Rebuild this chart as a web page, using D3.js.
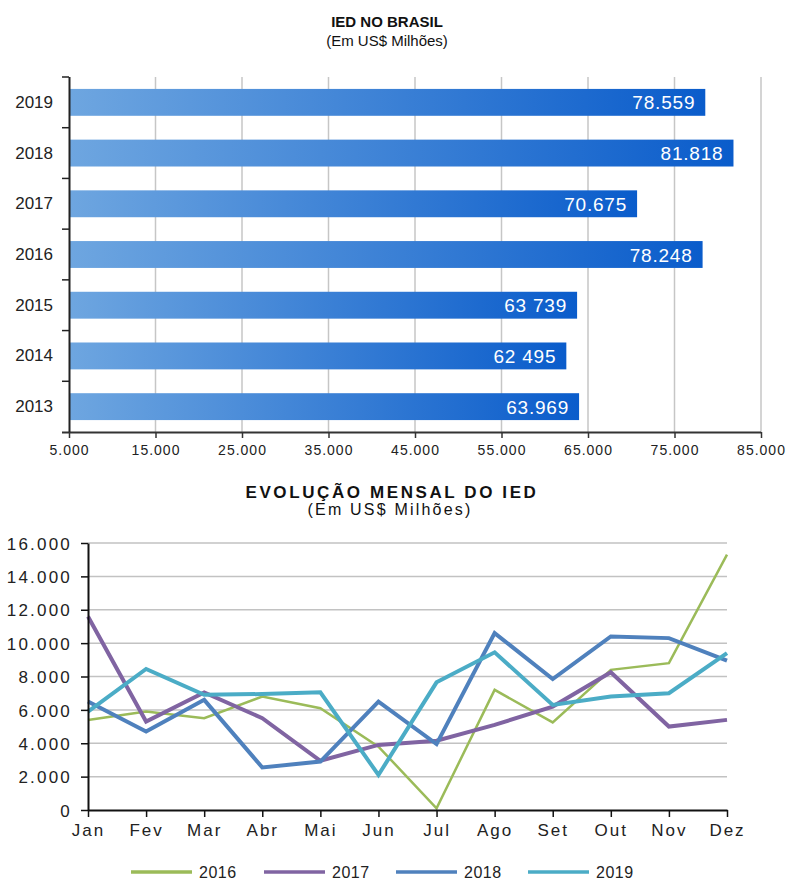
<!DOCTYPE html>
<html>
<head>
<meta charset="utf-8">
<script src="https://cdn.jsdelivr.net/npm/d3@7"></script>
<style>
  body { margin: 0; background: #fff; }
  svg { font-family: "Liberation Sans", Arial, sans-serif; }
</style>
</head>
<body>
<script>
// dados - IED anual
var years = ["2019", "2018", "2017", "2016", "2015", "2014", "2013"];
var iedValues = [78559, 81818, 70675, 78248, 63739, 62495, 63969];
var iedLabels = ["78.559", "81.818", "70.675", "78.248", "63 739", "62 495", "63.969"];
var barTicks = [5000, 15000, 25000, 35000, 45000, 55000, 65000, 75000, 85000];

// dados - evolucao mensal
var months = ["Jan", "Fev", "Mar", "Abr", "Mai", "Jun", "Jul", "Ago", "Set", "Out", "Nov", "Dez"];
var seriesNames = ["2016", "2017", "2018", "2019"];
var s2016 = [5400, 5900, 5500, 6800, 6100, 3800, 100, 7200, 5250, 8400, 8800, 15300];
var s2017 = [11600, 5300, 7050, 5500, 2950, 3900, 4150, 5100, 6200, 8250, 5000, 5400];
var s2018 = [6500, 4700, 6600, 2550, 2900, 6500, 3950, 10600, 7850, 10400, 10300, 8950];
var s2019 = [5900, 8450, 6900, 6950, 7050, 2100, 7650, 9450, 6300, 6800, 7000, 9400];
var lineTicks = [0, 2000, 4000, 6000, 8000, 10000, 12000, 14000, 16000];

var colors = ["#9bbb59", "#8064a2", "#4f81bd", "#4bacc6"];
var widths = [2.5, 4, 4, 4];

var br = d3.formatLocale({decimal: ",", thousands: ".", grouping: [3], currency: ["", ""]});
var fmt = br.format(",");

var svg = d3.select("body").append("svg")
    .attr("width", 790)
    .attr("height", 881);

// ---------- grafico de barras ----------
var xB = d3.scaleLinear().domain([5000, 85000]).range([69, 761]);
var yB = d3.scaleBand().domain(years).range([77, 432])
    .paddingInner(0.47).paddingOuter(0.235);

var defs = svg.append("defs");
var grad = defs.append("linearGradient")
    .attr("id", "barGrad")
    .attr("x1", "0%").attr("x2", "100%")
    .attr("y1", "0%").attr("y2", "0%");
grad.append("stop").attr("offset", "0%").attr("stop-color", "#6ea6e0");
grad.append("stop").attr("offset", "100%").attr("stop-color", "#0a5ccb");

svg.append("text")
    .attr("x", 387).attr("y", 27)
    .attr("text-anchor", "middle")
    .style("font-weight", "bold").style("font-size", "15px")
    .attr("fill", "#111")
    .text("IED NO BRASIL");
svg.append("text")
    .attr("x", 387).attr("y", 46)
    .attr("text-anchor", "middle")
    .style("font-size", "15px")
    .attr("fill", "#111")
    .text("(Em US$ Milhões)");

// grade vertical
svg.append("g").selectAll("line")
    .data(barTicks.slice(1))
    .enter().append("line")
    .attr("x1", function(d) { return xB(d); })
    .attr("x2", function(d) { return xB(d); })
    .attr("y1", 77).attr("y2", 432)
    .attr("stroke", "#c6c6c6")
    .attr("stroke-width", 1.5);

svg.append("g").selectAll("rect")
    .data(years)
    .enter().append("rect")
    .attr("x", xB(5000))
    .attr("y", function(d) { return yB(d); })
    .attr("width", function(d, i) { return xB(iedValues[i]) - xB(5000); })
    .attr("height", yB.bandwidth())
    .attr("fill", "url(#barGrad)");

svg.append("g").selectAll("text")
    .data(years)
    .enter().append("text")
    .attr("x", function(d, i) { return xB(iedValues[i]) - 10; })
    .attr("y", function(d) { return yB(d) + yB.bandwidth() / 2 + 7; })
    .attr("text-anchor", "end")
    .attr("fill", "#fff")
    .style("font-size", "19px")
    .style("letter-spacing", "0.8px")
    .text(function(d, i) { return iedLabels[i]; });

var xAxisB = d3.axisBottom(xB).tickValues(barTicks).tickFormat(fmt).tickSize(6).tickSizeOuter(0);
var gxB = svg.append("g").attr("transform", "translate(0,432)").call(xAxisB);
gxB.select(".domain").attr("d", "M62,0.5H761").attr("stroke", "#333").attr("stroke-width", 2);
gxB.selectAll(".tick line").attr("stroke", "#333").attr("stroke-width", 1.5);
gxB.selectAll("text").attr("y", 13).style("font-size", "14px")
    .style("letter-spacing", "1px").attr("fill", "#222").attr("font-family", "inherit");

// eixo y com marcas entre as categorias
var yAxisB = d3.axisLeft(yB).tickSize(0).tickPadding(16);
var gyB = svg.append("g").attr("transform", "translate(69,0)").call(yAxisB);
gyB.select(".domain").attr("d", "M0.5,77V432").attr("stroke", "#222").attr("stroke-width", 2);
gyB.selectAll("text").style("font-size", "17px").attr("fill", "#222").attr("font-family", "inherit");
var edge = (yB.step() - yB.bandwidth()) / 2;
gyB.selectAll(".sep")
    .data(years)
    .enter().append("line")
    .attr("class", "sep")
    .attr("x1", -7).attr("x2", 0)
    .attr("y1", function(d) { return yB(d) - edge; })
    .attr("y2", function(d) { return yB(d) - edge; })
    .attr("stroke", "#222").attr("stroke-width", 1.5);

// ---------- grafico de linhas ----------
var xL = d3.scalePoint().domain(months).range([88, 727]);
var yL = d3.scaleLinear().domain([0, 16000]).range([810, 543]);

svg.append("text")
    .attr("x", 392).attr("y", 498)
    .attr("text-anchor", "middle")
    .style("font-weight", "bold").style("font-size", "17px")
    .style("letter-spacing", "2.6px")
    .attr("fill", "#111")
    .text("EVOLUÇÃO MENSAL DO IED");
svg.append("text")
    .attr("x", 390).attr("y", 515)
    .attr("text-anchor", "middle")
    .style("font-size", "16px")
    .style("letter-spacing", "2.2px")
    .attr("fill", "#111")
    .text("(Em US$ Milhões)");

svg.append("g").selectAll("line")
    .data(lineTicks.slice(1))
    .enter().append("line")
    .attr("x1", 88).attr("x2", 727)
    .attr("y1", function(d) { return yL(d); })
    .attr("y2", function(d) { return yL(d); })
    .attr("stroke", "#c2c2c2")
    .attr("stroke-width", 1.5);

var line = d3.line()
    .x(function(d, i) { return xL(months[i]); })
    .y(function(d) { return yL(d); });

var allSeries = [s2016, s2017, s2018, s2019];
svg.append("g").selectAll("path")
    .data(allSeries)
    .enter().append("path")
    .attr("d", line)
    .attr("fill", "none")
    .attr("stroke", function(d, i) { return colors[i]; })
    .attr("stroke-width", function(d, i) { return widths[i]; })
    .attr("stroke-linejoin", "miter");

var yAxisL = d3.axisLeft(yL).tickValues(lineTicks).tickFormat(fmt).tickSize(7).tickSizeOuter(0);
var gyL = svg.append("g").attr("transform", "translate(88,0)").call(yAxisL);
gyL.select(".domain").attr("stroke", "#111").attr("stroke-width", 2);
gyL.selectAll(".tick line").attr("stroke", "#111").attr("stroke-width", 1.5);
gyL.selectAll("text").attr("x", -16).attr("dy", "0.36em").style("font-size", "17px")
    .style("letter-spacing", "2.2px").attr("fill", "#222").attr("font-family", "inherit");

var xAxisL = d3.axisBottom(xL).tickSize(7).tickSizeOuter(0);
var gxL = svg.append("g").attr("transform", "translate(0,810)").call(xAxisL);
gxL.select(".domain").attr("stroke", "#111").attr("stroke-width", 2);
gxL.selectAll(".tick line").attr("stroke", "#111").attr("stroke-width", 1.5);
gxL.selectAll("text").attr("y", 14).style("font-size", "17px")
    .style("letter-spacing", "2px").attr("fill", "#222").attr("font-family", "inherit");

// legenda
var legX = [131, 264, 396, 528];
var leg = svg.append("g").selectAll("g")
    .data(seriesNames)
    .enter().append("g")
    .attr("transform", function(d, i) { return "translate(" + legX[i] + ",872)"; });
leg.append("line")
    .attr("x1", 0).attr("x2", 61)
    .attr("stroke", function(d, i) { return colors[i]; })
    .attr("stroke-width", 3.5);
leg.append("text")
    .attr("x", 68).attr("y", 6)
    .style("font-size", "16px")
    .style("letter-spacing", "0.5px")
    .attr("fill", "#222")
    .text(function(d) { return d; });
</script>
</body>
</html>
